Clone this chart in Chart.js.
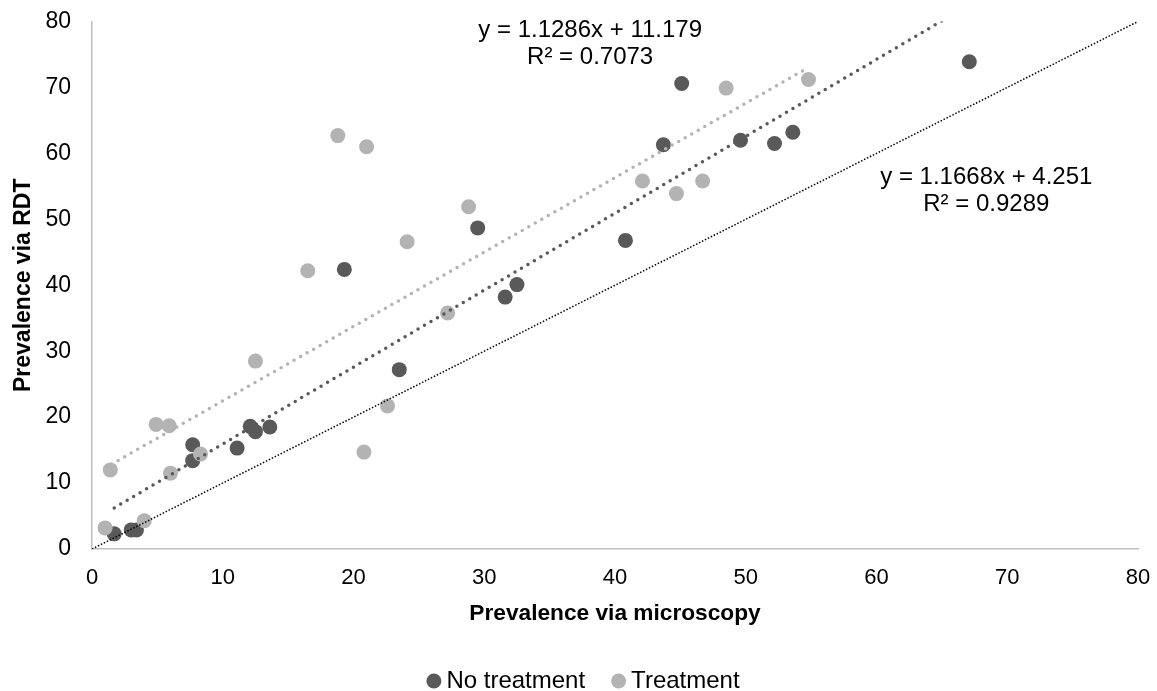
<!DOCTYPE html>
<html>
<head>
<meta charset="utf-8">
<script src="https://cdn.jsdelivr.net/npm/chart.js@4.4.1/dist/chart.umd.min.js"></script>
<style>
  html, body { margin: 0; padding: 0; background: #fff; }
  #wrap { width: 1157px; height: 691px; }
</style>
</head>
<body>
<div id="wrap"><canvas id="myChart"></canvas></div>
<script>
// prevalence (%)
var noTxMicro = [1.7, 3.0, 3.4, 7.7, 7.7, 11.1, 12.1, 12.5, 13.6, 19.3, 23.5, 29.5, 31.6, 32.5, 40.8, 43.7, 45.1, 49.6, 52.2, 53.6, 67.1];
var noTxRdt   = [2.3, 2.9, 2.9, 15.8, 13.4, 15.3, 18.6, 17.8, 18.5, 42.4, 27.2, 48.7, 38.2, 40.1, 46.8, 61.3, 70.6, 62.0, 61.5, 63.2, 73.9];
var txMicro = [1.0, 1.4, 4.0, 4.9, 5.9, 6.0, 8.3, 12.5, 16.5, 18.8, 20.8, 21.0, 22.6, 24.1, 27.2, 28.8, 42.1, 44.7, 46.7, 48.5, 54.8];
var txRdt   = [3.2, 12.0, 4.3, 18.9, 18.7, 11.5, 14.4, 28.5, 42.2, 62.7, 14.7, 61.0, 21.7, 46.6, 35.8, 51.9, 55.8, 53.9, 55.8, 69.9, 71.2];

// linear trendlines as printed on the chart: [no treatment, treatment]
var trendSlope = [1.1668, 1.1286];
var trendIntercept = [4.251, 11.179];
var trendR2 = [0.9289, 0.7073];

var seriesNames = ["No treatment", "Treatment"];
var axisTicks = [0, 10, 20, 30, 40, 50, 60, 70, 80];
var identityLine = [0, 80];

var darkGrey = '#595959';
var lightGrey = '#b3b3b3';
var fontFam = "'Liberation Sans', Arial, sans-serif";

function toPoints(xs, ys) {
    return xs.map(function (x, i) { return { x: x, y: ys[i] }; });
}
function trendPoints(xs, k) {
    var lo = Math.min.apply(null, xs), hi = Math.max.apply(null, xs);
    return [lo, hi].map(function (x) { return { x: x, y: trendSlope[k] * x + trendIntercept[k] }; });
}

// trendline equation labels
var eqLabels = [
    { k: 1, x: 38.1, y: 78.7 },
    { k: 0, x: 68.4, y: 56.3 }
];
var eqPlugin = {
    id: 'eqText',
    afterDatasetsDraw: function (chart) {
        var ctx = chart.ctx, xs = chart.scales.x, ys = chart.scales.y;
        ctx.save();
        ctx.font = '24px ' + fontFam;
        ctx.fillStyle = '#000';
        ctx.textAlign = 'center';
        ctx.textBaseline = 'middle';
        eqLabels.forEach(function (l) {
            var px = xs.getPixelForValue(l.x), py = ys.getPixelForValue(l.y);
            ctx.fillText('y = ' + trendSlope[l.k] + 'x + ' + trendIntercept[l.k], px, py);
            ctx.fillText('R\u00b2 = ' + trendR2[l.k], px, py + 27);
        });
        ctx.restore();
    }
};

var ctx = document.getElementById('myChart');
var myChart = new Chart(ctx, {
    type: 'scatter',
    data: {
        datasets: [{
            label: seriesNames[0],
            data: toPoints(noTxMicro, noTxRdt),
            backgroundColor: darkGrey,
            borderWidth: 0,
            pointRadius: 7.5,
            order: 3
        },
        {
            label: seriesNames[1],
            data: toPoints(txMicro, txRdt),
            backgroundColor: lightGrey,
            borderWidth: 0,
            pointRadius: 7.5,
            order: 2
        },
        {
            label: 'trend0',
            type: 'line',
            data: trendPoints(noTxMicro, 0),
            borderColor: darkGrey,
            borderWidth: 3.5,
            borderDash: [0, 7.5],
            borderCapStyle: 'round',
            pointRadius: 0,
            fill: false,
            order: 1
        },
        {
            label: 'trend1',
            type: 'line',
            data: trendPoints(txMicro, 1),
            borderColor: lightGrey,
            borderWidth: 3.5,
            borderDash: [0, 7.5],
            borderCapStyle: 'round',
            pointRadius: 0,
            fill: false,
            order: 1
        },
        {
            label: 'identity',
            type: 'line',
            data: identityLine.map(function (v) { return { x: v, y: v }; }),
            borderColor: '#000',
            borderWidth: 1.5,
            borderDash: [1.5, 1.8],
            pointRadius: 0,
            fill: false,
            order: 0
        }]
    },
    options: {
        responsive: true,
        maintainAspectRatio: false,
        animation: false,
        layout: { padding: { top: 0, right: 0, left: 16, bottom: -12 } },
        scales: {
            x: {
                type: 'linear',
                min: 0, max: 80,
                afterBuildTicks: function (s) { s.ticks = axisTicks.map(function (v) { return { value: v }; }); },
                afterFit: function (s) { s.height = 87; s.paddingRight = 19; },
                grid: { display: false, drawTicks: false },
                border: { color: '#bfbfbf', width: 1.5 },
                ticks: { color: '#000', padding: 16, maxRotation: 0, font: { family: fontFam, size: 22 } },
                title: {
                    display: true,
                    text: 'Prevalence via microscopy',
                    color: '#000',
                    font: { family: fontFam, size: 22.7, weight: 'bold' },
                    padding: { top: 0, bottom: 9 }
                }
            },
            y: {
                type: 'linear',
                min: 0, max: 80,
                afterBuildTicks: function (s) { s.ticks = axisTicks.map(function (v) { return { value: v }; }); },
                afterFit: function (s) { s.width = 76; s.paddingTop = 21.5; },
                grid: { display: false, drawTicks: false },
                border: { color: '#bfbfbf', width: 1.5 },
                ticks: { color: '#000', padding: 21, font: { family: fontFam, size: 23 } },
                title: {
                    display: true,
                    text: 'Prevalence via RDT',
                    color: '#000',
                    font: { family: fontFam, size: 23, weight: 'bold' },
                    padding: { top: -6, bottom: 10 }
                }
            }
        },
        plugins: {
            legend: {
                position: 'bottom',
                labels: {
                    color: '#000',
                    font: { family: fontFam, size: 24 },
                    usePointStyle: true,
                    pointStyle: 'circle',
                    boxWidth: 1,
                    boxHeight: 10.6,
                    padding: 33,
                    filter: function (item) { return item.datasetIndex < 2; },
                    sort: function (a, b) { return a.datasetIndex - b.datasetIndex; }
                }
            },
            tooltip: { enabled: false }
        }
    },
    plugins: [eqPlugin]
});
</script>
</body>
</html>
